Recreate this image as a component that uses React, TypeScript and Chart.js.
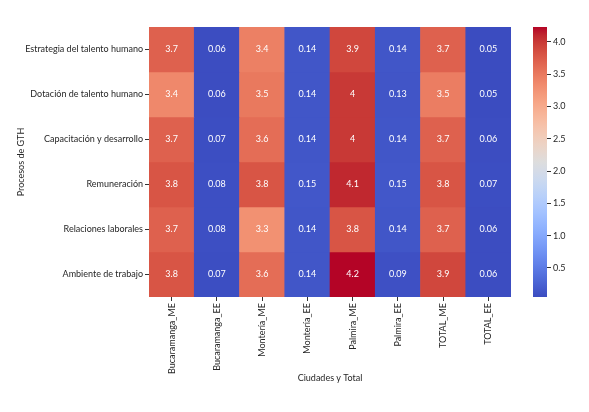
import { useEffect, useRef } from 'react';
import { Chart, registerables } from 'chart.js';

Chart.register(...registerables);

const procesos = [
  'Estrategia del talento humano',
  'Dotación de talento humano',
  'Capacitación y desarrollo',
  'Remuneración',
  'Relaciones laborales',
  'Ambiente de trabajo',
];
const columnas = [
  'Bucaramanga_ME',
  'Bucaramanga_EE',
  'Montería_ME',
  'Montería_EE',
  'Palmira_ME',
  'Palmira_EE',
  'TOTAL_ME',
  'TOTAL_EE',
];

// valores (una fila por proceso)
const estrategia = [3.7, 0.06, 3.44, 0.14, 3.9, 0.14, 3.7, 0.05];
const dotacion = [3.36, 0.06, 3.5, 0.14, 4.0, 0.13, 3.46, 0.05];
const capacitacion = [3.7, 0.07, 3.6, 0.14, 4.0, 0.14, 3.7, 0.06];
const remuneracion = [3.8, 0.08, 3.8, 0.15, 4.1, 0.15, 3.8, 0.07];
const relaciones = [3.7, 0.08, 3.28, 0.14, 3.8, 0.14, 3.7, 0.06];
const ambiente = [3.8, 0.07, 3.6, 0.14, 4.23, 0.09, 3.9, 0.06];
const valores = [estrategia, dotacion, capacitacion, remuneracion, relaciones, ambiente];

const barraTicks = [0.5, 1.0, 1.5, 2.0, 2.5, 3.0, 3.5, 4.0];

const FONT = "'Lato', sans-serif";
const TEXTO = '#262626';

// coolwarm (Moreland)
const coolwarmTabla = [
  [59, 76, 192], [68, 90, 204], [77, 104, 215], [87, 117, 225], [98, 130, 234],
  [108, 142, 241], [119, 154, 247], [130, 165, 251], [141, 176, 254], [152, 185, 255],
  [163, 194, 255], [174, 201, 253], [184, 208, 249], [194, 213, 244], [204, 217, 238],
  [213, 219, 230], [221, 221, 221], [229, 216, 209], [236, 211, 197], [241, 204, 185],
  [245, 196, 173], [247, 187, 160], [247, 177, 148], [247, 166, 135], [244, 154, 123],
  [241, 141, 111], [236, 127, 99], [229, 112, 88], [222, 96, 77], [213, 80, 66],
  [203, 62, 56], [192, 40, 47], [180, 4, 38],
];

function coolwarmRgb(t: number) {
  const c = Math.min(1, Math.max(0, t)) * (coolwarmTabla.length - 1);
  const i = Math.min(coolwarmTabla.length - 2, Math.floor(c));
  const f = c - i;
  const a = coolwarmTabla[i];
  const b = coolwarmTabla[i + 1];
  return a.map((v, k) => Math.round(v + (b[k] - v) * f));
}

function coolwarm(t: number) {
  const [r, g, b] = coolwarmRgb(t);
  return `rgb(${r}, ${g}, ${b})`;
}

function luminancia(t: number) {
  const rgb = coolwarmRgb(t).map((v) => {
    const c = v / 255;
    return c <= 0.03928 ? c / 12.92 : Math.pow((c + 0.055) / 1.055, 2.4);
  });
  return 0.2126 * rgb[0] + 0.7152 * rgb[1] + 0.0722 * rgb[2];
}

const todos = valores.flat();
const vmin = Math.min(...todos);
const vmax = Math.max(...todos);
const norm = (v: number) => (v - vmin) / (vmax - vmin);

const anotaciones = {
  id: 'anotaciones',
  afterDatasetsDraw(chart: Chart) {
    const ctx = chart.ctx;
    ctx.save();
    ctx.font = `9px ${FONT}`;
    ctx.textAlign = 'center';
    ctx.textBaseline = 'middle';
    chart.data.datasets.forEach((_, i) => {
      chart.getDatasetMeta(i).data.forEach((el, j) => {
        const v = valores[i][j];
        const { x, y } = el.getCenterPoint();
        ctx.fillStyle = luminancia(norm(v)) > 0.408 ? TEXTO : '#ffffff';
        ctx.fillText(String(Number(v.toPrecision(2))), x, y);
      });
    });
    ctx.restore();
  },
};

export default function App() {
  const mapaRef = useRef<HTMLCanvasElement>(null);
  const barraRef = useRef<HTMLCanvasElement>(null);

  useEffect(() => {
    if (mapaRef.current === null || barraRef.current === null) return;
    const font = { family: FONT, size: 9 };

    const mapa = new Chart(mapaRef.current, {
      type: 'bar',
      data: {
        labels: columnas,
        datasets: procesos.map((p, i) => ({
          label: p,
          data: columnas.map(() => 1),
          backgroundColor: valores[i].map((v) => coolwarm(norm(v))),
          borderWidth: 0,
          categoryPercentage: 1,
          barPercentage: 1,
        })),
      },
      options: {
        responsive: false,
        animation: false,
        layout: { padding: { top: 27, right: 78, left: 0, bottom: 0 } },
        plugins: { legend: { display: false }, tooltip: { enabled: false } },
        scales: {
          x: {
            stacked: true,
            grid: { offset: false, drawOnChartArea: false, tickLength: 4, color: '#333' },
            border: { display: false },
            ticks: { minRotation: 90, maxRotation: 90, padding: 2, color: TEXTO, font },
            title: {
              display: true,
              text: 'Ciudades y Total',
              color: TEXTO,
              font,
              padding: { top: 0, bottom: 28.5 },
            },
            afterFit: (s) => {
              s.height = 115;
            },
          },
          y: {
            stacked: true,
            reverse: true,
            min: 0,
            max: procesos.length,
            afterBuildTicks: (s) => {
              s.ticks = procesos.map((_, i) => ({ value: i + 0.5 }));
            },
            grid: { drawOnChartArea: false, tickLength: 4, color: '#333' },
            border: { display: false },
            ticks: {
              callback: (_v, i) => procesos[i],
              padding: 2,
              color: TEXTO,
              font,
            },
            title: {
              display: true,
              text: 'Procesos de GTH',
              color: TEXTO,
              font,
              padding: { top: 16, bottom: 0 },
            },
            afterFit: (s) => {
              s.width = 149;
            },
          },
        },
      },
      plugins: [anotaciones],
    });

    const barra = new Chart(barraRef.current, {
      type: 'bar',
      data: {
        labels: [''],
        datasets: [
          {
            data: [[vmin, vmax]],
            backgroundColor: (c) => {
              const area = c.chart.chartArea;
              if (!area) return coolwarm(0.5);
              const g = c.chart.ctx.createLinearGradient(0, area.bottom, 0, area.top);
              coolwarmTabla.forEach((_, k) => {
                g.addColorStop(k / (coolwarmTabla.length - 1), coolwarm(k / (coolwarmTabla.length - 1)));
              });
              return g;
            },
            borderWidth: 0,
            borderSkipped: false,
            categoryPercentage: 1,
            barPercentage: 1,
          },
        ],
      },
      options: {
        responsive: false,
        animation: false,
        layout: { padding: { top: 27, right: 0, left: 13, bottom: 115 } },
        plugins: { legend: { display: false }, tooltip: { enabled: false } },
        scales: {
          x: { display: false },
          y: {
            position: 'right',
            min: vmin,
            max: vmax,
            afterBuildTicks: (s) => {
              s.ticks = barraTicks.map((v) => ({ value: v }));
            },
            grid: { drawOnChartArea: false, tickLength: 4, color: '#333' },
            border: { display: false },
            ticks: {
              callback: (v) => Number(v).toFixed(1),
              padding: 2,
              color: TEXTO,
              font,
            },
            afterFit: (s) => {
              s.width = 42;
            },
          },
        },
      },
    });

    return () => {
      mapa.destroy();
      barra.destroy();
    };
  }, []);

  return (
    <div style={{ position: 'fixed', left: 0, top: 0, width: 589, height: 412, background: '#fff' }}>
      <canvas ref={mapaRef} width={589} height={412} style={{ position: 'absolute', left: 0, top: 0 }} />
      <canvas ref={barraRef} width={69} height={412} style={{ position: 'absolute', left: 520, top: 0 }} />
    </div>
  );
}
